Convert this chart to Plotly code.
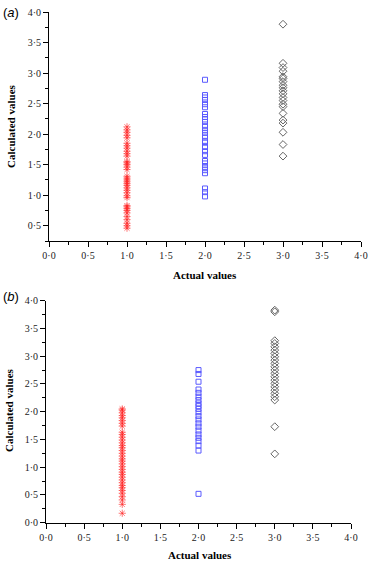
import plotly.graph_objects as go

# ---------------- data ----------------
# Panel (a)
a_red_x = 1.0
a_red_y = [2.12, 2.07, 2.03, 1.98, 1.94, 1.85, 1.81, 1.77, 1.72, 1.68, 1.64, 1.55, 1.53,
           1.50, 1.46, 1.42, 1.31, 1.28, 1.25, 1.22, 1.19, 1.16, 1.12, 1.08, 1.04, 0.99,
           0.96, 0.83, 0.81, 0.78, 0.75, 0.71, 0.65, 0.60, 0.54, 0.50, 0.46]
a_blue_x = 2.0
a_blue_y = [2.89, 2.64, 2.60, 2.56, 2.49, 2.44, 2.33, 2.28, 2.24, 2.20, 2.13, 2.07, 2.02,
            1.96, 1.89, 1.86, 1.79, 1.72, 1.66, 1.56, 1.52, 1.46, 1.41, 1.36, 1.11, 1.05, 0.98]
a_black_x = 3.0
a_black_y = [3.80, 3.16, 3.09, 3.03, 2.94, 2.91, 2.86, 2.80, 2.76, 2.71, 2.66, 2.60, 2.55,
             2.49, 2.45, 2.34, 2.23, 2.18, 2.03, 1.83, 1.64]

# Panel (b)
b_red_x = 1.0
b_red_y = [2.05, 2.03, 1.98, 1.93, 1.89, 1.84, 1.79, 1.74, 1.63, 1.59, 1.54, 1.49, 1.44,
           1.39, 1.35, 1.30, 1.25, 1.20, 1.15, 1.11, 1.06, 1.01, 0.96, 0.91, 0.87, 0.82,
           0.77, 0.72, 0.67, 0.63, 0.58, 0.53, 0.47, 0.41, 0.33, 0.17]
b_blue_x = 2.0
b_blue_y = [2.75, 2.68, 2.54, 2.40, 2.34, 2.27, 2.21, 2.15, 2.10, 2.05, 1.99, 1.92, 1.86,
            1.79, 1.73, 1.66, 1.59, 1.53, 1.47, 1.39, 1.30, 0.52]
b_black_x = 3.0
b_black_y = [3.83, 3.80, 3.28, 3.23, 3.17, 3.11, 3.05, 2.99, 2.93, 2.87, 2.81, 2.75, 2.69,
             2.63, 2.57, 2.51, 2.45, 2.39, 2.33, 2.27, 2.21, 1.73, 1.24]

# ticks
x_tickvals = [0.0, 0.5, 1.0, 1.5, 2.0, 2.5, 3.0, 3.5, 4.0]
x_ticktext = ["0·0", "0·5", "1·0", "1·5", "2·0", "2·5", "3·0", "3·5", "4·0"]
minor_vals = [0.25, 0.75, 1.25, 1.75, 2.25, 2.75, 3.25, 3.75]
ya_tickvals = [0.5, 1.0, 1.5, 2.0, 2.5, 3.0, 3.5, 4.0]
ya_ticktext = ["0·5", "1·0", "1·5", "2·0", "2·5", "3·0", "3·5", "4·0"]
yb_tickvals = x_tickvals
yb_ticktext = x_ticktext

x_title = "Actual values"
y_title = "Calculated values"
panel_labels = ["(<i>a</i>)", "(<i>b</i>)"]

# ---------------- figure ----------------
W, H = 371, 562
fig = go.Figure()

RED = "rgba(255,30,30,0.75)"
BLUE = "#5a5aff"
GRAY = "#666666"
SERIF = "Liberation Serif, Times New Roman, serif"

def add_panel(xa, ya, rx, ry, bx, by, kx, ky):
    fig.add_trace(go.Scatter(x=[rx] * len(ry), y=ry, mode="markers", xaxis=xa, yaxis=ya,
                             marker=dict(symbol="asterisk-open", size=6, color=RED,
                                         line=dict(color=RED, width=0.8)),
                             showlegend=False, hoverinfo="skip"))
    fig.add_trace(go.Scatter(x=[bx] * len(by), y=by, mode="markers", xaxis=xa, yaxis=ya,
                             marker=dict(symbol="square-open", size=5, color=BLUE,
                                         line=dict(color=BLUE, width=1)),
                             showlegend=False, hoverinfo="skip"))
    fig.add_trace(go.Scatter(x=[kx] * len(ky), y=ky, mode="markers", xaxis=xa, yaxis=ya,
                             marker=dict(symbol="diamond-open", size=6, color=GRAY,
                                         line=dict(color=GRAY, width=1)),
                             showlegend=False, hoverinfo="skip"))

add_panel("x", "y", a_red_x, a_red_y, a_blue_x, a_blue_y, a_black_x, a_black_y)
add_panel("x2", "y2", b_red_x, b_red_y, b_blue_x, b_blue_y, b_black_x, b_black_y)

tickfont = dict(family=SERIF, size=10, color="#222")
common = dict(showline=True, linecolor="black", linewidth=1, showgrid=False, zeroline=False,
              ticks="outside", ticklen=5, tickcolor="black", tickwidth=1, tickfont=tickfont,
              tickmode="array", automargin=False)

def px2fx(px):
    return px / W

def py2fy(py):
    return 1 - py / H

minor = dict(tickmode="array", tickvals=minor_vals, ticks="outside", ticklen=3,
             tickcolor="black")

fig.update_layout(
    width=W, height=H, margin=dict(l=0, r=0, t=0, b=0),
    paper_bgcolor="white", plot_bgcolor="white",
    xaxis=dict(domain=[px2fx(49), px2fx(361)], range=[0, 4], anchor="y",
               tickvals=x_tickvals, ticktext=x_ticktext, minor=minor, **common),
    yaxis=dict(domain=[py2fy(241), py2fy(12)], range=[0.25, 4.0], anchor="x",
               tickvals=ya_tickvals, ticktext=ya_ticktext, minor=minor, **common),
    xaxis2=dict(domain=[px2fx(46), px2fx(351)], range=[0, 4], anchor="y2",
                tickvals=x_tickvals, ticktext=x_ticktext, minor=minor, **common),
    yaxis2=dict(domain=[py2fy(522.7), py2fy(300.7)], range=[0, 4.0], anchor="x2",
                tickvals=yb_tickvals, ticktext=yb_ticktext, minor=minor, **common),
)

title_font = dict(family=SERIF, size=11, color="black")
annos = [
    dict(text="<b>" + x_title + "</b>", x=px2fx(205), y=py2fy(275)),
    dict(text="<b>" + x_title + "</b>", x=px2fx(200), y=py2fy(555)),
    dict(text="<b>" + y_title + "</b>", x=px2fx(11), y=py2fy(126), textangle=-90),
    dict(text="<b>" + y_title + "</b>", x=px2fx(9), y=py2fy(410), textangle=-90),
]
for a in annos:
    fig.add_annotation(xref="paper", yref="paper", showarrow=False, font=title_font,
                       xanchor="center", yanchor="middle", **a)

for lab, yy in zip(panel_labels, [12, 296]):
    fig.add_annotation(xref="paper", yref="paper", showarrow=False, text=lab,
                       x=px2fx(1), y=py2fy(yy), xanchor="left", yanchor="middle",
                       font=dict(family="Liberation Sans, Arial, sans-serif", size=13,
                                 color="black"))

fig.write_html("out.html",
               config={"displayModeBar": False},
               post_script="document.body.style.margin='0px';document.body.style.overflow='hidden';")
